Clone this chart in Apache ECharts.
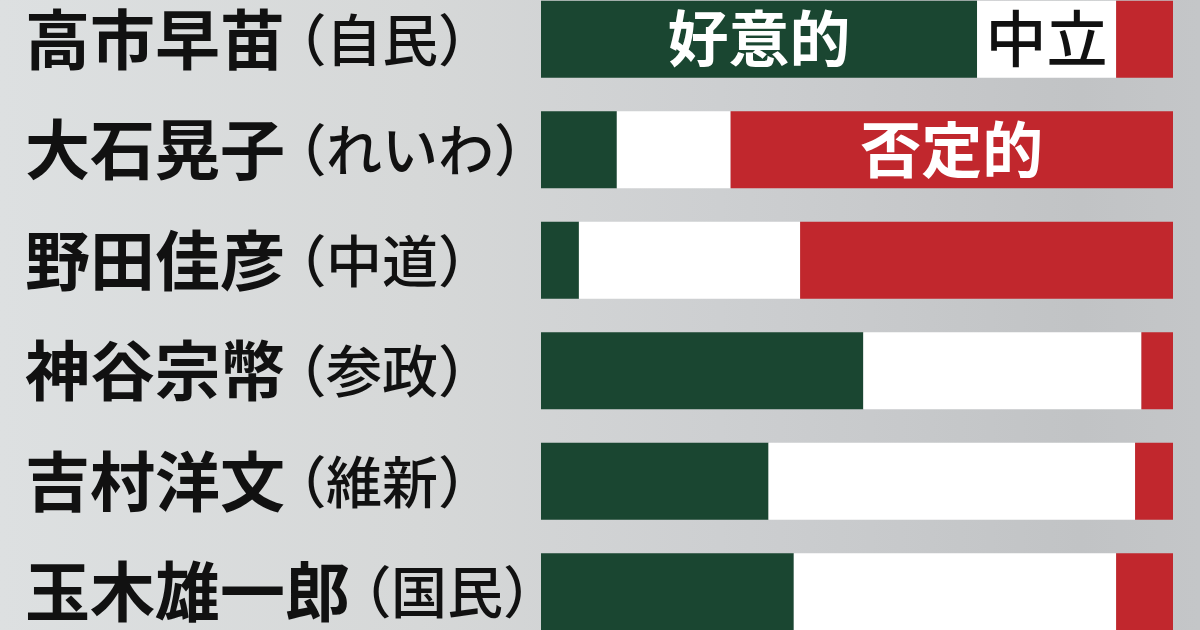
<!DOCTYPE html>
<html>
<head>
<meta charset="utf-8">
<script src="https://cdn.jsdelivr.net/npm/echarts@6/dist/echarts.min.js"></script>
<style>
html,body{margin:0;padding:0;width:1200px;height:630px;overflow:hidden;
  background:linear-gradient(to right,#dde0e1 0%,#d6d8d8 35%,#cdcfd1 60%,#c1c3c5 90%,#c4c6c8 100%);}
#chart{position:absolute;left:0;top:-16px;width:1200px;height:663px;}
</style>
</head>
<body>
<div id="chart"></div>
<script>
const names = ['高市早苗', '大石晃子', '野田佳彦', '神谷宗幣', '吉村洋文', '玉木雄一郎'];
const parties = ['自民', 'れいわ', '中道', '参政', '維新', '国民'];
const positive = [69, 12, 6, 51, 36, 40];
const neutral = [22, 18, 35, 44, 58, 51];
const negative = [9, 70, 59, 5, 6, 9];
const seriesNames = ['好意的', '中立', '否定的'];
// which row carries the in-bar label for each series
const labelRow = [0, 0, 1];

const FONT = '"Noto Sans CJK JP", "Noto Sans", sans-serif';
const colors = ['#1a4631', '#ffffff', '#c1272d'];
const labelColors = ['#ffffff', '#111111', '#ffffff'];
const labelWeights = ['bold', 500, 'bold'];

function buildData(arr, s) {
  return arr.map((v, i) => i === labelRow[s]
    ? { value: v, label: { show: true, position: 'inside', formatter: seriesNames[s],
        color: labelColors[s], fontSize: 61, fontWeight: labelWeights[s], fontFamily: FONT } }
    : v);
}

const partyStyle = { fontFamily: FONT, fontSize: 56, fontWeight: 500, color: '#111', verticalAlign: 'middle', align: 'center' };

const chart = echarts.init(document.getElementById('chart'));
chart.setOption({
  animation: false,
  backgroundColor: 'transparent',
  grid: { left: 541, right: 27, top: 0, bottom: 0, containLabel: false },
  xAxis: { type: 'value', min: 0, max: 100, show: false },
  yAxis: {
    type: 'category',
    inverse: true,
    data: names,
    axisLine: { show: false },
    axisTick: { show: false },
    axisLabel: {
      align: 'left',
      margin: 516,
      formatter: (v, i) => '{n|' + v + '}{lp|（}{s1| }{p|' + parties[i] + '}{s2| }{rp|）}',
      rich: {
        n: { fontFamily: FONT, fontSize: 65, fontWeight: 'bold', color: '#111', verticalAlign: 'middle' },
        lp: Object.assign({}, partyStyle, { width: 27 }),
        s1: Object.assign({}, partyStyle, { width: 14 }),
        p: partyStyle,
        s2: Object.assign({}, partyStyle, { width: 18 }),
        rp: Object.assign({}, partyStyle, { width: 20 })
      }
    }
  },
  series: [positive, neutral, negative].map((arr, s) => ({
    name: seriesNames[s],
    type: 'bar',
    stack: 'total',
    barWidth: 77,
    itemStyle: { color: colors[s] },
    label: { show: false },
    data: buildData(arr, s)
  }))
});
</script>
</body>
</html>
